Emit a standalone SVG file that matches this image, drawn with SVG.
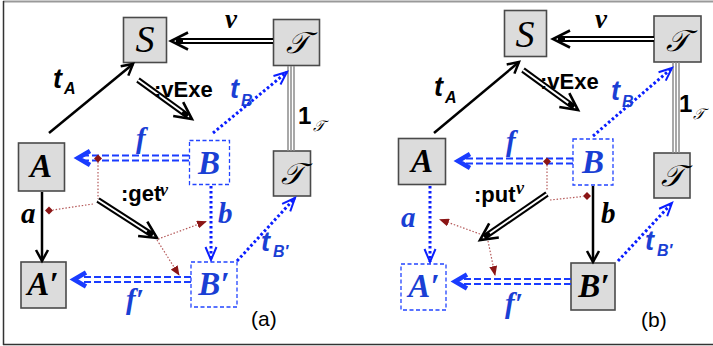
<svg xmlns="http://www.w3.org/2000/svg" width="713" height="346" viewBox="0 0 713 346">
<style>
.box{fill:#dcdcdc;stroke:#4a4a4a;stroke-width:1.6}
.dbox{fill:none;stroke:#2244ff;stroke-width:1.3;stroke-dasharray:4 2.5}
.nl{font-family:"Liberation Serif",serif;font-style:italic;font-weight:bold;font-size:33px;text-anchor:middle}
.sc{font-family:"Liberation Serif","DejaVu Serif",serif;font-style:italic;font-size:30px;text-anchor:middle}
.ss{font-family:"Liberation Serif",serif;font-style:italic;font-size:38px;text-anchor:middle}
.blue{fill:#1a3fd4}
.solid{fill:none;stroke:#000;stroke-width:2.5}
.dblk{fill:none;stroke:#000;stroke-width:6}
.dwht{fill:none;stroke:#fff;stroke-width:2}
.dot{fill:none;stroke:#0a1eff;stroke-width:3;stroke-dasharray:2.6 2.4}
.dash{fill:none;stroke:#1a3cff;stroke-width:2;stroke-dasharray:7 3}
.chev{fill:none;stroke:#1a3cff;stroke-width:4.5}
.red{fill:none;stroke:#b55a5a;stroke-width:1.2;stroke-dasharray:1.5 1.8}
.dia{fill:#8b1515}
.tri{fill:none;stroke:#8c8c8c;stroke-width:1.5}
.lt{font-family:"Liberation Sans",sans-serif;font-weight:bold;font-style:italic;font-size:27px}
.sub{font-size:16px}
.op{font-family:"Liberation Sans",sans-serif;font-weight:bold;font-size:22px}
.gl{font-family:"Liberation Serif",serif;font-weight:bold;font-style:italic;font-size:29px}
.nu{font-family:"Liberation Serif",serif;font-weight:bold;font-style:italic;font-size:27px}
.one{font-family:"Liberation Sans",sans-serif;font-weight:bold;font-size:24px}
.cap{font-family:"Liberation Sans",sans-serif;font-size:21px}
</style>
<defs>
<marker id="hb" viewBox="0 0 14 14" refX="12" refY="7" markerWidth="14" markerHeight="14" orient="auto" markerUnits="userSpaceOnUse" overflow="visible"><path d="M1,1 L12,7 L1,13" fill="none" stroke="#000" stroke-width="2.5"/></marker>
<marker id="hd" viewBox="0 0 18 18" refX="12" refY="9" markerWidth="18" markerHeight="18" orient="auto" markerUnits="userSpaceOnUse" overflow="visible"><path d="M0,0.5 L17,9 L0,17.5" fill="none" stroke="#000" stroke-width="2.6"/></marker>
<marker id="hv" viewBox="0 0 14 12" refX="13" refY="6" markerWidth="14" markerHeight="12" orient="auto" markerUnits="userSpaceOnUse" overflow="visible"><path d="M0,0.5 L13,6 L0,11.5" fill="none" stroke="#0a1eff" stroke-width="2"/></marker>
<marker id="hr" viewBox="0 0 10 8" refX="9" refY="4" markerWidth="10" markerHeight="8" orient="auto" markerUnits="userSpaceOnUse"><path d="M0,0 L10,4 L0,8 Z" fill="#8b1515"/></marker>
</defs>

<g id="frame">
<line x1="3" y1="1.5" x2="713" y2="1.5" stroke="#999" stroke-width="2"/>
<line x1="3.5" y1="1" x2="3.5" y2="345" stroke="#333" stroke-width="1.5"/>
<line x1="3" y1="344.5" x2="713" y2="344.5" stroke="#333" stroke-width="1.5"/>
</g>

<!-- Panel (a) nodes -->
<g id="a-S"><rect class="box" x="123.5" y="17.5" width="43" height="45"/><text class="ss" x="145" y="52">S</text></g>
<g id="a-T"><rect class="box" x="273.5" y="19.5" width="46" height="46"/><text class="sc" x="297" y="53">𝒯</text></g>
<g id="a-T2"><rect class="box" x="273.5" y="151" width="37" height="45"/><text class="sc" x="292" y="184">𝒯</text></g>
<g id="a-A"><rect class="box" x="18.5" y="143" width="46" height="48"/><text class="nl" x="41" y="177">A</text></g>
<g id="a-A2"><rect class="box" x="21" y="262" width="45" height="46"/><text class="nl" x="43" y="295">A′</text></g>
<g id="a-B"><rect class="dbox" x="189.5" y="140.5" width="40" height="44"/><text class="nl blue" x="209" y="174">B</text></g>
<g id="a-B2"><rect class="dbox" x="191" y="262" width="46" height="45"/><text class="nl blue" x="214" y="295">B′</text></g>

<!-- Panel (b) nodes -->
<g id="b-S"><rect class="box" x="504.5" y="10.5" width="42" height="46"/><text class="ss" x="525" y="47">S</text></g>
<g id="b-T"><rect class="box" x="654" y="16" width="47" height="46"/><text class="sc" x="677" y="51">𝒯</text></g>
<g id="b-T2"><rect class="box" x="654" y="153" width="36" height="45"/><text class="sc" x="672" y="186">𝒯</text></g>
<g id="b-A"><rect class="box" x="398.5" y="138.5" width="47" height="46"/><text class="nl" x="422" y="172">A</text></g>
<g id="b-A2"><rect class="dbox" x="401" y="264" width="45" height="46"/><text class="nl blue" x="424" y="297">A′</text></g>
<g id="b-B"><rect class="dbox" x="573" y="139" width="40" height="46"/><text class="nl blue" x="593" y="173">B</text></g>
<g id="b-B2"><rect class="box" x="571" y="263" width="44" height="47"/><text class="nl" x="594" y="297">B′</text></g>

<g id="connectors">
<!-- panel a -->
<path class="dblk" d="M273,41 L176,41" marker-end="url(#hd)"/><path class="dwht" d="M273,41 L183,41"/>
<path class="dblk" d="M138,80 L187.9,116.1" marker-end="url(#hd)"/><path class="dwht" d="M138,80 L182.3,112"/>
<path class="dblk" d="M98,200 L152.8,235.3" marker-end="url(#hd)"/><path class="dwht" d="M98,200 L146.9,231.5"/>
<path class="solid" d="M49,133 L133,64" marker-end="url(#hb)"/>
<path class="solid" d="M42,192 L42,261" marker-end="url(#hb)"/>
<path class="tri" d="M288,66 V151 M291,66 V151 M294,66 V151"/>
<path class="dot" d="M213,133 L287,72" marker-end="url(#hv)"/>
<path class="dot" d="M211,186 L211,260" marker-end="url(#hv)"/>
<path class="dot" d="M237,261 L295,198" marker-end="url(#hv)"/>
<path class="dash" d="M189,155.5 H82 M189,160.5 H82"/><path class="chev" d="M90,151 L78,158 L90,165"/>
<path class="dash" d="M191,277 H80 M191,282 H80"/><path class="chev" d="M86,272.5 L74,279.5 L86,286.5"/>
<path class="red" d="M98,162 V199 M93,204 L53,210"/>
<path class="red" d="M158,239 L206,221.5" marker-end="url(#hr)"/>
<path class="red" d="M157,240 L179,275" marker-end="url(#hr)"/>
<path class="dia" d="M98,154.5 L102,158.5 L98,162.5 L94,158.5 Z"/>
<path class="dia" d="M49,206.5 L53,210.5 L49,214.5 L45,210.5 Z"/>
<!-- panel b -->
<path class="dblk" d="M654,39 L558,39" marker-end="url(#hd)"/><path class="dwht" d="M654,39 L565,39"/>
<path class="dblk" d="M523,70 L574,107.1" marker-end="url(#hd)"/><path class="dwht" d="M523,70 L568.3,102.9"/>
<path class="dblk" d="M547,194 L484.1,237.2" marker-end="url(#hd)"/><path class="dwht" d="M547,194 L489.9,233.2"/>
<path class="solid" d="M434,133 L519,62" marker-end="url(#hb)"/>
<path class="solid" d="M593,186 L593,262" marker-end="url(#hb)"/>
<path class="tri" d="M673,62 V153 M676,62 V153 M679,62 V153"/>
<path class="dot" d="M593,136 L672,68" marker-end="url(#hv)"/>
<path class="dot" d="M430,186 L430,262" marker-end="url(#hv)"/>
<path class="dot" d="M618,261 L672,203" marker-end="url(#hv)"/>
<path class="dash" d="M573,158.5 H462 M573,163.5 H462"/><path class="chev" d="M470,154 L458,161 L470,168"/>
<path class="dash" d="M571,279 H460 M571,284 H460"/><path class="chev" d="M467,274.5 L455,281.5 L467,288.5"/>
<path class="red" d="M547,165 V191 M550,200 L583,196.5"/>
<path class="red" d="M480,234 L440,219.5" marker-end="url(#hr)"/>
<path class="red" d="M488,241 L495,275" marker-end="url(#hr)"/>
<path class="dia" d="M547,157.5 L551,161.5 L547,165.5 L543,161.5 Z"/>
<path class="dia" d="M587,192 L591,196 L587,200 L583,196 Z"/>
</g>

<g id="labels">
<!-- panel a -->
<text class="nu" x="225" y="28">ν</text>
<text class="lt" x="53" y="88">t<tspan class="sub" x="64" y="94">A</tspan></text>
<text class="op" x="154" y="97">:vExe</text>
<text class="lt blue" x="230" y="98">t<tspan class="sub" x="241" y="106">B</tspan></text>
<text class="one" x="298" y="124">1</text><text class="sc" style="font-size:15px;text-anchor:start" x="313" y="131">𝒯</text>
<text class="gl blue" x="136" y="148">f</text>
<text class="op" x="121" y="201">:get</text><text class="nu" style="font-size:18px" x="160" y="196">ν</text>
<text class="gl" x="21" y="223">a</text>
<text class="gl blue" x="218" y="223">b</text>
<text class="lt blue" x="261" y="251">t<tspan class="sub" x="273" y="257">B′</tspan></text>
<text class="gl blue" x="126" y="309">f′</text>
<text class="cap" x="251" y="326">(a)</text>
<!-- panel b -->
<text class="nu" x="595" y="28">ν</text>
<text class="lt" x="434" y="96">t<tspan class="sub" x="445" y="103">A</tspan></text>
<text class="op" x="540" y="89">:vExe</text>
<text class="lt blue" x="611" y="100">t<tspan class="sub" x="622" y="107">B</tspan></text>
<text class="one" x="679" y="112">1</text><text class="sc" style="font-size:15px;text-anchor:start" x="693" y="119">𝒯</text>
<text class="gl blue" x="506" y="151">f</text>
<text class="op" x="474" y="202">:put</text><text class="nu" style="font-size:18px" x="516" y="194">ν</text>
<text class="gl blue" x="401" y="227">a</text>
<text class="gl" x="601" y="223">b</text>
<text class="lt blue" x="645" y="250">t<tspan class="sub" x="657" y="256">B′</tspan></text>
<text class="gl blue" x="505" y="313">f′</text>
<text class="cap" x="641" y="327">(b)</text>
</g>
</svg>
